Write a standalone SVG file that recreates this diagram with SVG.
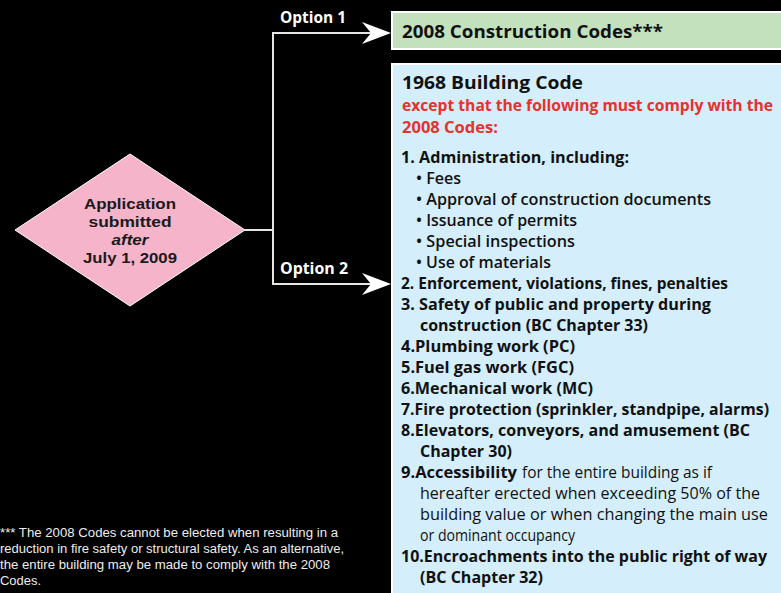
<svg xmlns="http://www.w3.org/2000/svg" width="781" height="593" viewBox="0 0 781 593">
<defs>
<style>
.b{font-family:"Open Sans","Noto Sans","Liberation Sans",sans-serif;font-weight:700;fill:#111;font-size:16.5px}
.r{font-family:"Open Sans","Noto Sans","Liberation Sans",sans-serif;font-weight:600;fill:#111;font-size:16.5px}
.rr{font-family:"Open Sans","Noto Sans","Liberation Sans",sans-serif;font-weight:400;fill:#111;font-size:16.5px}
.h{font-size:18.5px}
.red{fill:#e8312b}
.opt{font-family:"Open Sans","Noto Sans","Liberation Sans",sans-serif;font-weight:700;fill:#fff;font-size:16px}
.fn{font-family:"Liberation Sans",Arial,sans-serif;fill:#eee;font-size:12.5px}
.dt{font-family:"Liberation Sans",Arial,sans-serif;font-weight:700;fill:#1a1a1a;font-size:15px;text-anchor:middle}
.ln{fill:none;stroke:#e6e6e6;stroke-width:2}
.ah{fill:#fff}
</style>
</defs>
<rect width="781" height="593" fill="#000"/>
<g id="connectors">
<polyline class="ln" points="245,230 273,230"/>
<polyline class="ln" points="372,33 273,33 273,284 372,284"/>
<polygon class="ah" points="362,22 391,33 362,44 371,33"/>
<polygon class="ah" points="362,273 391,284 362,295 371,284"/>
<text class="opt" x="280" y="23" textLength="66" lengthAdjust="spacingAndGlyphs">Option 1</text>
<text class="opt" x="280" y="274" textLength="68" lengthAdjust="spacingAndGlyphs">Option 2</text>
</g>
<g id="decision">
<polygon points="130,154 245,230 130,306 15,230" fill="#f5b4ca" stroke="#fff" stroke-width="1"/>
<text class="dt" x="130" y="209" textLength="92" lengthAdjust="spacingAndGlyphs">Application</text>
<text class="dt" x="130" y="227" textLength="83" lengthAdjust="spacingAndGlyphs">submitted</text>
<text class="dt" x="130" y="245" font-style="italic" textLength="37" lengthAdjust="spacingAndGlyphs">after</text>
<text class="dt" x="130" y="263" textLength="94" lengthAdjust="spacingAndGlyphs">July 1, 2009</text>
</g>
<g id="option1">
<rect x="392" y="12" width="391" height="37" fill="#c4e1be" stroke="#fff" stroke-width="2"/>
<text class="b h" x="402" y="38" textLength="261" lengthAdjust="spacingAndGlyphs">2008 Construction Codes***</text>
</g>
<g id="option2">
<rect x="392" y="64" width="391" height="531" fill="#d4eefc" stroke="#fff" stroke-width="2"/>
<text class="b h" x="402" y="89" textLength="181" lengthAdjust="spacingAndGlyphs">1968 Building Code</text>
<text class="b red" x="402" y="111" font-size="14.6" textLength="371" lengthAdjust="spacingAndGlyphs">except that the following must comply with the</text>
<text class="b red" x="402" y="133" textLength="96" lengthAdjust="spacingAndGlyphs">2008 Codes:</text>
<text class="b" x="401" y="163" textLength="228" lengthAdjust="spacingAndGlyphs">1. Administration, including:</text>
<text class="r" x="416" y="184" textLength="45" lengthAdjust="spacingAndGlyphs">• Fees</text>
<text class="r" x="416" y="205" textLength="295" lengthAdjust="spacingAndGlyphs">• Approval of construction documents</text>
<text class="r" x="416" y="226" textLength="161" lengthAdjust="spacingAndGlyphs">• Issuance of permits</text>
<text class="r" x="416" y="247" textLength="159" lengthAdjust="spacingAndGlyphs">• Special inspections</text>
<text class="r" x="416" y="268" textLength="135" lengthAdjust="spacingAndGlyphs">• Use of materials</text>
<text class="b" x="401" y="289" textLength="327" lengthAdjust="spacingAndGlyphs">2. Enforcement, violations, fines, penalties</text>
<text class="b" x="401" y="310" textLength="310" lengthAdjust="spacingAndGlyphs">3. Safety of public and property during</text>
<text class="b" x="420" y="331" textLength="228" lengthAdjust="spacingAndGlyphs">construction (BC Chapter 33)</text>
<text class="b" x="401" y="352" textLength="174" lengthAdjust="spacingAndGlyphs">4.Plumbing work (PC)</text>
<text class="b" x="401" y="373" textLength="173" lengthAdjust="spacingAndGlyphs">5.Fuel gas work (FGC)</text>
<text class="b" x="401" y="394" textLength="192" lengthAdjust="spacingAndGlyphs">6.Mechanical work (MC)</text>
<text class="b" x="401" y="415" font-size="14.9" textLength="368" lengthAdjust="spacingAndGlyphs">7.Fire protection (sprinkler, standpipe, alarms)</text>
<text class="b" x="401" y="436" textLength="349" lengthAdjust="spacingAndGlyphs">8.Elevators, conveyors, and amusement (BC</text>
<text class="b" x="420" y="457" textLength="92" lengthAdjust="spacingAndGlyphs">Chapter 30)</text>
<text class="b" x="401" y="478" textLength="116" lengthAdjust="spacingAndGlyphs">9.Accessibility</text>
<text class="rr" x="522" y="478" textLength="190" lengthAdjust="spacingAndGlyphs">for the entire building as if</text>
<text class="rr" x="420" y="499" textLength="340" lengthAdjust="spacingAndGlyphs">hereafter erected when exceeding 50% of the</text>
<text class="rr" x="420" y="520" textLength="348" lengthAdjust="spacingAndGlyphs">building value or when changing the main use</text>
<text class="rr" x="420" y="541" textLength="155" lengthAdjust="spacingAndGlyphs">or dominant occupancy</text>
<text class="b" x="401" y="562" textLength="366" lengthAdjust="spacingAndGlyphs">10.Encroachments into the public right of way</text>
<text class="b" x="420" y="583" textLength="123" lengthAdjust="spacingAndGlyphs">(BC Chapter 32)</text>
</g>
<g id="footnote">
<text class="fn" x="0" y="537" textLength="338" lengthAdjust="spacingAndGlyphs">*** The 2008 Codes cannot be elected when resulting in a</text>
<text class="fn" x="0" y="553" textLength="344" lengthAdjust="spacingAndGlyphs">reduction in fire safety or structural safety. As an alternative,</text>
<text class="fn" x="0" y="569" textLength="330" lengthAdjust="spacingAndGlyphs">the entire building may be made to comply with the 2008</text>
<text class="fn" x="0" y="585" textLength="41" lengthAdjust="spacingAndGlyphs">Codes.</text>
</g>
</svg>
